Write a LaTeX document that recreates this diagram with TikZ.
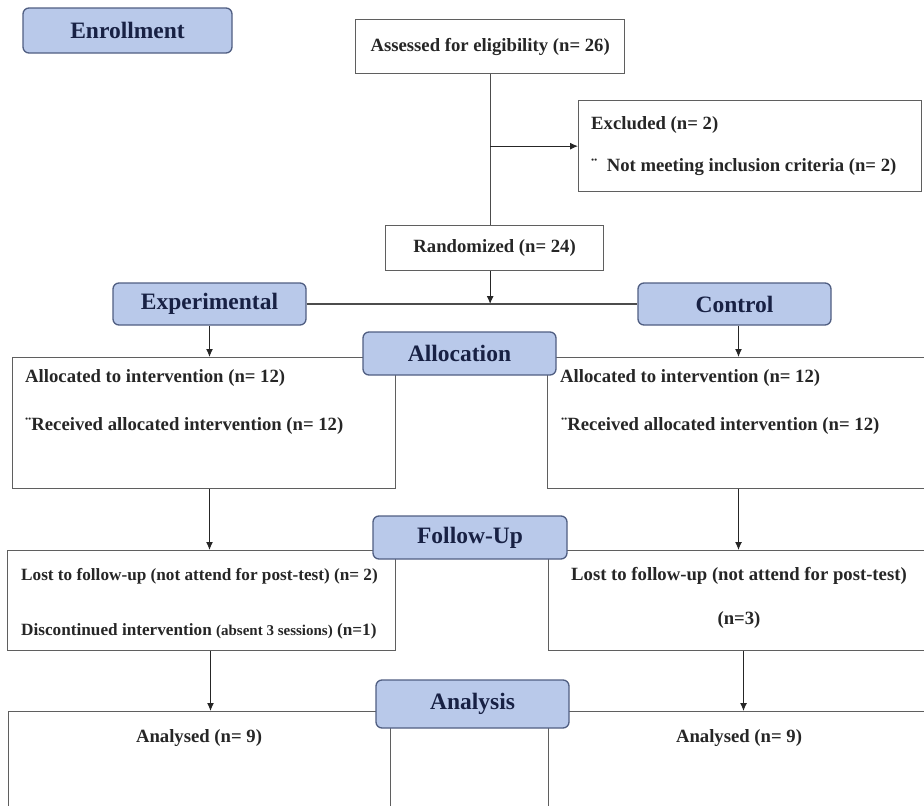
\documentclass[tikz,border=0pt]{standalone}
\usepackage{fontspec}
\setmainfont{Liberation Serif}
\usetikzlibrary{arrows.meta}

\definecolor{stagefill}{RGB}{185,201,234}
\definecolor{stageline}{RGB}{80,94,130}
\definecolor{stagetext}{RGB}{24,33,68}
\definecolor{boxline}{RGB}{95,95,95}

\tikzset{
  stage/.style={draw=stageline, line width=1.3pt, fill=stagefill, rounded corners=6pt,
    text=stagetext, font=\fontsize{23.5}{26}\selectfont\bfseries, inner sep=0pt},
  box/.style={draw=boxline, line width=1.3pt, anchor=north west, inner sep=0pt,
    text=black!85, font=\fontsize{18.7}{22}\selectfont\bfseries},
  txt/.style={text=black!85, font=\fontsize{18.7}{22}\selectfont\bfseries, inner sep=0pt},
  small/.style={txt, font=\fontsize{17.2}{20}\selectfont\bfseries},
  arr/.style={->, draw=black!85, line width=1pt},
  link/.style={draw=black!70, line width=1.2pt}
}

\begin{document}
\begin{tikzpicture}[x=1pt, y=-1pt, >={Latex[length=8pt,width=7pt]}]
  \useasboundingbox (0,0) rectangle (924,806);
  \clip (0,0) rectangle (924,806);

  % enrollment
  \node[stage, minimum width=209pt, minimum height=45pt] (enrol) at (127.5,30.5) {Enrollment};
  \node[box, minimum width=269pt, minimum height=54pt] (assess) at (355,19) {Assessed for eligibility (n= 26)};
  \node[box, minimum width=343pt, minimum height=91pt] (excl) at (578,100) {};
  \node[txt, anchor=west] (exclA) at (591,125) {Excluded (n= 2)};
  \node[txt, anchor=west] (exclB) at (591,167) {¨\ \ Not meeting inclusion criteria (n= 2)};
  \node[box, minimum width=218pt, minimum height=45pt] (rand) at (385,225) {Randomized (n= 24)};

  % the two groups
  \node[stage, minimum width=193pt, minimum height=42pt] (exp) at (209.5,304) {Experimental};
  \node[stage, minimum width=193pt, minimum height=42pt] (ctrl) at (734.5,304) {Control};

  % allocation
  \node[box, minimum width=383pt, minimum height=131pt] (alocL) at (12,357) {};
  \node[box, minimum width=390pt, minimum height=131pt] (alocR) at (547,357) {};
  \node[stage, minimum width=193pt, minimum height=43pt] (aloc) at (459.5,353.5) {Allocation};
  \node[txt, anchor=west] (alocLa) at (25,378) {Allocated to intervention (n= 12)};
  \node[txt, anchor=west] (alocLb) at (25,426) {¨Received allocated intervention (n= 12)};
  \node[txt, anchor=west] (alocRa) at (560,378) {Allocated to intervention (n= 12)};
  \node[txt, anchor=west] (alocRb) at (561,426) {¨Received allocated intervention (n= 12)};

  % follow-up
  \node[box, minimum width=388pt, minimum height=100pt] (fuL) at (7,550) {};
  \node[box, minimum width=390pt, minimum height=100pt] (fuR) at (548,550) {};
  \node[stage, minimum width=194pt, minimum height=43pt] (fu) at (470,537.5) {Follow-Up};
  \node[small, anchor=west] (fuLa) at (21,576) {Lost to follow-up (not attend for post-test) (n= 2)};
  \node[small, anchor=west] (fuLb) at (21,631)
    {Discontinued intervention {\fontsize{15}{17}\selectfont(absent 3 sessions)} (n=1)};
  \node[txt] (fuRa) at (739,576) {Lost to follow-up (not attend for post-test)};
  \node[txt] (fuRb) at (739,620) {(n=3)};

  % analysis
  \node[box, minimum width=382pt, minimum height=130pt] (anL) at (8,711) {};
  \node[box, minimum width=390pt, minimum height=130pt] (anR) at (548,711) {};
  \node[stage, minimum width=193pt, minimum height=48pt] (an) at (472.5,704) {Analysis};
  \node[txt] (anLa) at (199,738) {Analysed (n= 9)};
  \node[txt] (anRa) at (739,738) {Analysed (n= 9)};

  % connectors
  \draw[link] (assess.south) -- (assess.south |- rand.north);
  \draw[arr] (assess.south |- excl.west) -- (excl.west);
  \draw[arr] (assess.south |- rand.south) -- (assess.south |- exp.east);
  \draw[link] (exp.east) -- (ctrl.west);
  \draw[arr] (exp.south) -- (exp.south |- alocL.north);
  \draw[arr] ([xshift=4pt]ctrl.south) -- ([xshift=4pt]ctrl.south |- alocR.north);
  \draw[arr] (exp.south |- alocL.south) -- (exp.south |- fuL.north);
  \draw[arr] ([xshift=4pt]ctrl.south |- alocR.south) -- ([xshift=4pt]ctrl.south |- fuR.north);
  \draw[arr] ([xshift=1pt]exp.south |- fuL.south) -- ([xshift=1pt]exp.south |- anL.north);
  \draw[arr] ([xshift=9pt]ctrl.south |- fuR.south) -- ([xshift=9pt]ctrl.south |- anR.north);
\end{tikzpicture}
\end{document}
